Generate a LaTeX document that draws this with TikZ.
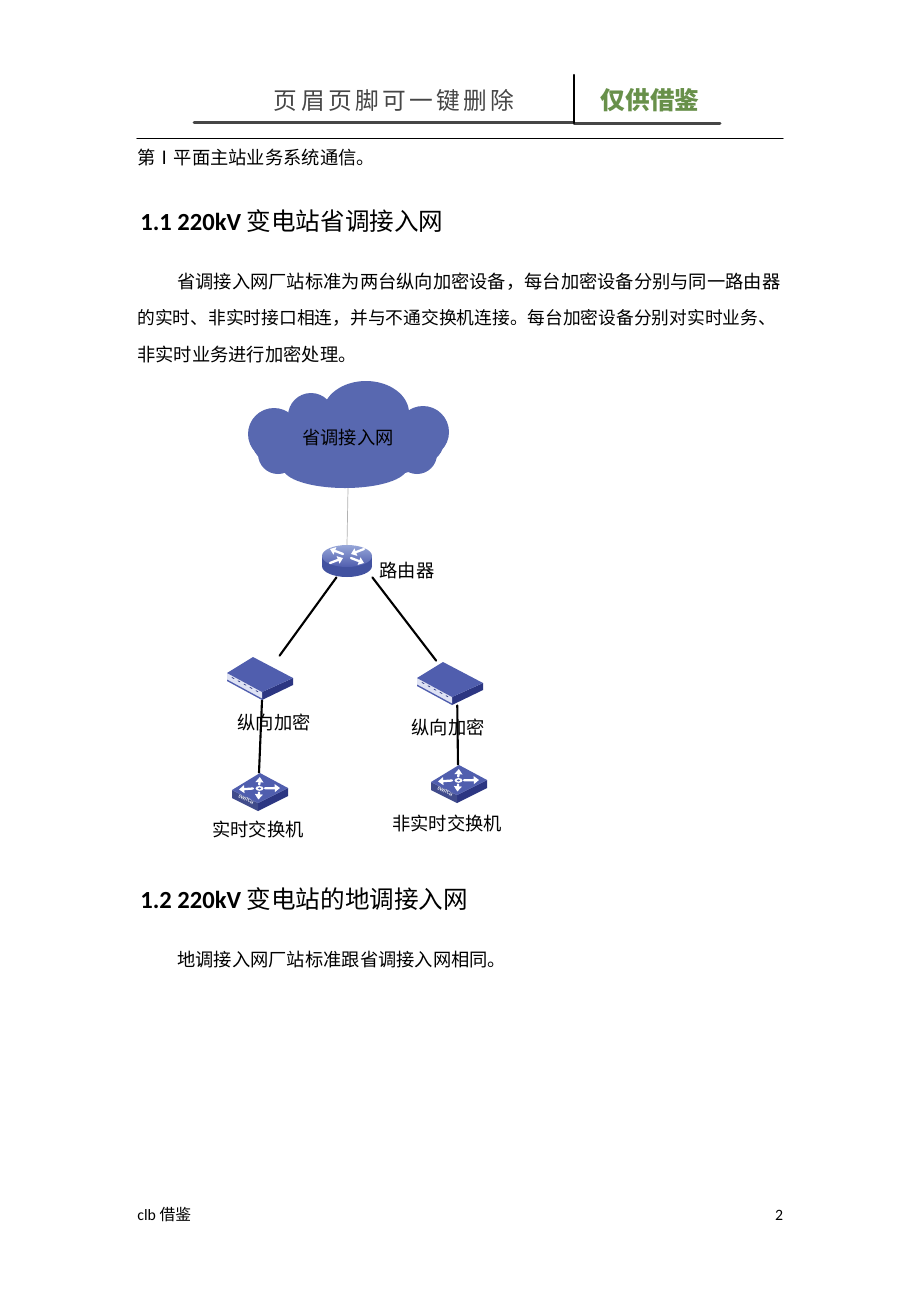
\documentclass[tikz,border=0pt]{standalone}
\usepackage{fontspec}
\newfontfamily\cjk{Noto Sans CJK SC}
\newfontfamily\latinfont{Carlito}
\usetikzlibrary{arrows.meta}

\definecolor{cloudblue}{RGB}{88,104,176}
\definecolor{devtop}{RGB}{80,94,174}
\definecolor{devside}{RGB}{44,54,130}
\definecolor{devfront}{RGB}{222,226,244}
\definecolor{rtrtop}{RGB}{150,166,216}
\definecolor{rtrside}{RGB}{66,82,160}
\definecolor{hdrgray}{RGB}{70,70,70}
\definecolor{hdrgreen}{RGB}{104,144,74}

\tikzset{
  body/.style={font=\cjk\fontsize{10.4}{12}\selectfont, anchor=west, inner sep=0pt},
  heading/.style={font=\latinfont\bfseries\fontsize{14}{16}\selectfont, anchor=west, inner sep=0pt},
  devlabel/.style={font=\cjk\fontsize{10.4}{12}\selectfont, inner sep=0pt},
  foot/.style={font=\latinfont\fontsize{9}{11}\selectfont, inner sep=0pt},
  link/.style={line width=1.2pt},
  uplink/.style={line width=0.4pt, black!30},
  whitearrow/.style={white, line width=1.3pt, -{Triangle[width=4.4pt,length=3pt]}},
  rtrbox/.style={inner sep=0pt, minimum width=1cm, minimum height=0.64cm},
  cryptbox/.style={inner sep=0pt, minimum width=1.32cm, minimum height=0.88cm},
  swbox/.style={inner sep=0pt, minimum width=1.12cm, minimum height=0.76cm},
  routerdisk/.pic={
    \fill[rtrside] (0,5) ellipse (25 and 11);
    \fill[rtrside] (-25,-5) rectangle (25,5);
    \shade[top color=rtrtop, bottom color=devtop] (0,-5) ellipse (25 and 11);
    \draw[whitearrow] (-4,-7) -- (-17,-12);
    \draw[whitearrow] (4,-3) -- (17,2);
    \draw[whitearrow] (17,-12) -- (4,-7);
    \draw[whitearrow] (-17,2) -- (-4,-3);
  },
  cryptounit/.pic={
    \fill[devside] (0,14) -- (31,0) -- (31,7) -- (0,22) -- cycle;
    \fill[devfront] (-35,-5) -- (0,14) -- (0,22) -- (-35,3) -- cycle;
    \fill[devtop] (-35,1.5) -- (0,20.5) -- (0,22) -- (-35,3) -- cycle;
    \fill[devtop] (-35,-5) -- (-9,-21) -- (31,0) -- (0,14) -- cycle;
    \foreach \k in {0,...,4}
      \draw[devside, line width=0.4pt] (-30+6*\k,-0.5+3.3*\k) -- (-28+6*\k,0.6+3.3*\k);
  },
  switchunit/.pic={
    \fill[devside] (-1,11) -- (29,-4) -- (29,4) -- (-1,19) -- cycle;
    \fill[devtop!80!black] (-27,-2) -- (-1,11) -- (-1,19) -- (-27,6) -- cycle;
    \fill[devtop] (1,-19) -- (29,-4) -- (-1,11) -- (-27,-2) -- cycle;
    \draw[whitearrow] (0.3,-7.5) -- (0.8,-15);
    \draw[whitearrow] (-6,-3.5) -- (-20,-2.5);
    \draw[whitearrow] (0,0.5) -- (-0.6,7.5);
    \draw[whitearrow] (6,-3.7) -- (21,-4);
    \fill[white] (0.5,-3.6) ellipse (4 and 2.4);
    \fill[devtop] (0.5,-3.6) ellipse (1.7 and 1);
    \node[white, font=\latinfont\bfseries\fontsize{2.8}{3}\selectfont, rotate=-26, inner sep=0pt] at (-13,7.5) {SWITCH};
  }
}

\begin{document}
\begin{tikzpicture}[x=0.02cm,y=-0.02cm,line cap=round,line join=round]
  \useasboundingbox[fill=white] (0,0) rectangle (920,1302);

  % page head
  \node[font=\cjk\fontsize{13.5}{15}\selectfont\addfontfeature{LetterSpace=14}, text=hdrgray] (hdrnote) at (394,100) {页眉页脚可一键删除};
  \node[font=\cjk\bfseries\fontsize{14}{16}\selectfont, text=hdrgreen] (hdrmark) at (650,100) {仅供借鉴};
  \draw[line width=1.7pt, hdrgray] (194,122.7) -- (574,122.7);
  \draw[line width=1.7pt, hdrgray] (574,123.5) -- (720,123.5);
  \draw[line width=1.4pt] (574,75) -- (574,123);
  \draw[line width=0.6pt] (137,138.5) -- (783,138.5);

  \node[body] (intro) at (137,158) {第Ⅰ平面主站业务系统通信。};
  \node[heading] (sec1) at (140,221) {1.1 220kV {\cjk\mdseries 变电站省调接入网}};
  \node[body] (para1a) at (177,282) {省调接入网厂站标准为两台纵向加密设备，每台加密设备分别与同一路由器};
  \node[body, font=\cjk\fontsize{10.1}{12}\selectfont] (para1b) at (137,318) {的实时、非实时接口相连，并与不通交换机连接。每台加密设备分别对实时业务、};
  \node[body] (para1c) at (137,354) {非实时业务进行加密处理。};

  % cloud
  \fill[cloudblue] (348,445) ellipse (95 and 35);
  \fill[cloudblue] (311,416) circle (23);
  \fill[cloudblue] (366,413) ellipse (43 and 32);
  \fill[cloudblue] (274,434) circle (26);
  \fill[cloudblue] (423,432) circle (26);
  \fill[cloudblue] (345,468) ellipse (62 and 20);
  \fill[cloudblue] (278,454) circle (20);
  \fill[cloudblue] (417,454) circle (20);
  \node[devlabel, minimum height=2cm] (cloud) at (348,438) {省调接入网};

  % devices
  \node[rtrbox] (rtr) at (347,561) {};
  \node[cryptbox] (crypA) at (262,678) {};
  \node[cryptbox] (crypB) at (452,683) {};
  \node[swbox] (swA) at (259,792) {};
  \node[swbox] (swB) at (458,784) {};

  \draw[uplink] (cloud.south) -- (rtr.north);
  \draw[link] ([xshift=-6pt]rtr.south) -- ([xshift=10pt]crypA.north);
  \draw[link] (rtr.south east) -- ([xshift=-9pt]crypB.north);
  \draw[link] (crypA.south) -- (swA.north);
  \draw[link] ([xshift=3pt]crypB.south) -- (swB.north);

  \pic at (rtr) {routerdisk};
  \pic at (crypA) {cryptounit};
  \pic at (crypB) {cryptounit};
  \pic at (swA) {switchunit};
  \pic at (swB) {switchunit};

  \node[devlabel] (rtrlbl) at (407,571) {路由器};
  \node[devlabel] (crypAlbl) at (274,722) {纵向加密};
  \node[devlabel] (crypBlbl) at (448,727) {纵向加密};
  \node[devlabel] (swAlbl) at (258,829) {实时交换机};
  \node[devlabel] (swBlbl) at (447,823) {非实时交换机};

  \node[heading] (sec2) at (140,899) {1.2 220kV {\cjk\mdseries 变电站的地调接入网}};
  \node[body] (para2) at (177,960) {地调接入网厂站标准跟省调接入网相同。};

  % page foot
  \node[foot, anchor=west] (footnote) at (137,1215) {clb {\cjk 借鉴}};
  \node[foot] (pgnum) at (779,1215) {2};
\end{tikzpicture}
\end{document}
